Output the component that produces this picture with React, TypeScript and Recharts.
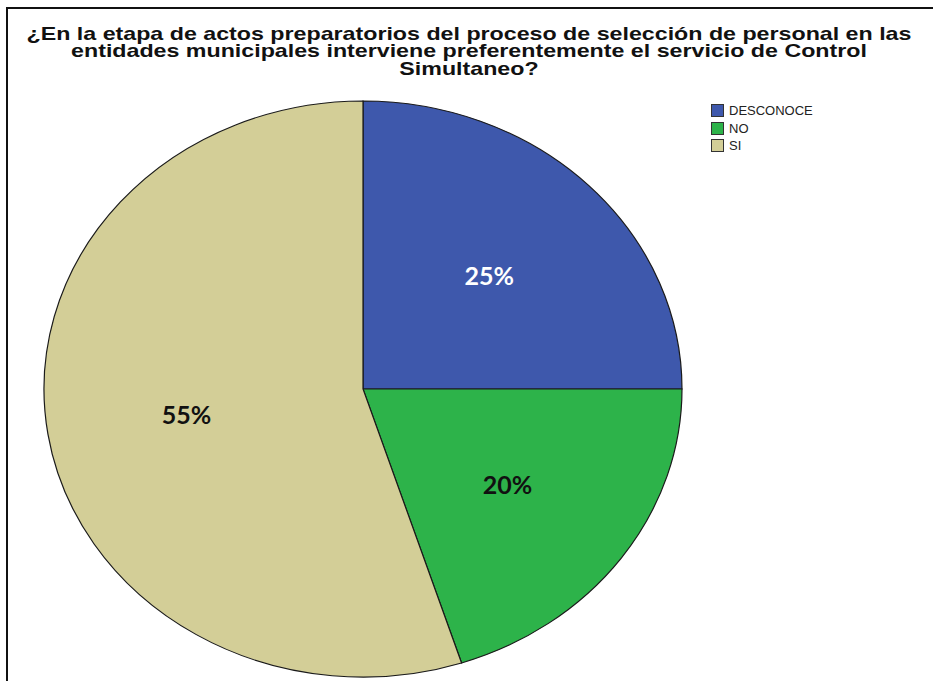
import { PieChart, Pie, Cell, Legend } from "recharts";

const categories = ["DESCONOCE", "NO", "SI"];
const percentages = [25, 20, 55];
const colors = ["#3E58AC", "#2DB34A", "#D3CE97"];
const labelColors = ["#ffffff", "#111111", "#111111"];
const titleLines = [
  "¿En la etapa de actos preparatorios del proceso de selección de personal en las",
  "entidades municipales interviene preferentemente el servicio de Control",
  "Simultaneo?",
];

const W = 933;
const H = 681;
// the chart keeps its default 5px margin, so centre is given relative to it
const CX = 358;
const CY = 384;
const R = 319;
const SQUASH = 0.903; // pie is drawn as an ellipse, vertical radius / horizontal radius

const data = categories.map((name, i) => ({ name, value: percentages[i] }));

const RAD = Math.PI / 180;

const renderLabel = (props: any) => {
  const { cx, cy, midAngle, outerRadius, index, value } = props;
  const r = outerRadius * 0.56;
  const x = cx + r * Math.cos(-midAngle * RAD);
  const y = cy + r * SQUASH * Math.sin(-midAngle * RAD);
  return (
    <text
      x={x}
      y={y}
      textAnchor="middle"
      dominantBaseline="central"
      fill={labelColors[index]}
      style={{ fontFamily: "Lato, sans-serif", fontWeight: 700, fontSize: 25 }}
    >
      {`${value}%`}
    </text>
  );
};

const LegendBox = () => (
  <div style={{ fontFamily: "'Liberation Sans', Arial, sans-serif", fontSize: 13, color: "#222" }}>
    {categories.map((c, i) => (
      <div key={c} style={{ display: "flex", alignItems: "center", height: 17.5 }}>
        <span
          style={{
            width: 11,
            height: 11,
            background: colors[i],
            border: "1px solid #333",
            marginRight: 5,
            display: "inline-block",
          }}
        />
        <span>{c}</span>
      </div>
    ))}
  </div>
);

export default function App() {
  return (
    <div style={{ position: "fixed", left: 0, top: 0, width: W, height: H, background: "#fff", overflow: "hidden" }}>
      <style>{`
        .ellipse-pie .recharts-pie-sector {
          transform: scale(1, ${SQUASH});
          transform-origin: ${CX + 5}px ${CY + 5}px;
        }
      `}</style>
      <svg width={W} height={H} style={{ position: "absolute", left: 0, top: 0 }}>
        <rect x={7} y={8} width={1000} height={1000} fill="none" stroke="#111" strokeWidth={2} />
        <g
          transform={`translate(469,0) scale(1.29,1) translate(-469,0)`}
          style={{ fontFamily: "'Liberation Sans', Arial, sans-serif", fontWeight: 700, fontSize: 18 }}
          fill="#111"
        >
          {titleLines.map((t, i) => (
            <text key={i} x={469} y={40 + i * 17.5} textAnchor="middle">
              {t}
            </text>
          ))}
        </g>
      </svg>
      <div style={{ position: "absolute", left: 0, top: 0 }}>
        <PieChart width={W} height={H} className="ellipse-pie">
          <Pie
            data={data}
            dataKey="value"
            nameKey="name"
            cx={CX}
            cy={CY}
            outerRadius={R}
            startAngle={90}
            endAngle={-270}
            stroke="#1a1a1a"
            strokeWidth={1.2}
            label={renderLabel}
            labelLine={false}
            isAnimationActive={false}
          >
            {data.map((d, i) => (
              <Cell key={d.name} fill={colors[i]} />
            ))}
          </Pie>
          <Legend
            layout="vertical"
            verticalAlign="top"
            align="right"
            content={<LegendBox />}
            wrapperStyle={{ left: 711, top: 102, width: 140 }}
          />
        </PieChart>
      </div>
    </div>
  );
}
